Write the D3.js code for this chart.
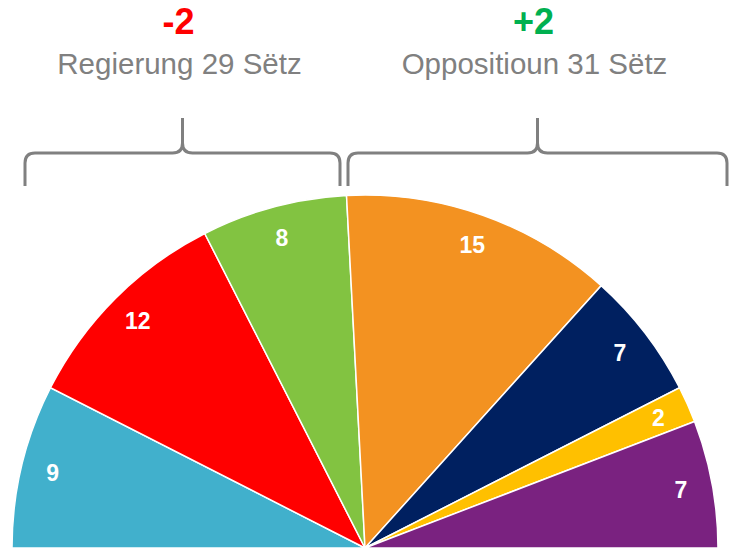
<!DOCTYPE html>
<html>
<head>
<meta charset="utf-8">
<script src="https://cdn.jsdelivr.net/npm/d3@7"></script>
<style>
  body { margin: 0; background: #fff; }
  svg { display: block; font-family: Arial, "Liberation Sans", sans-serif; }
</style>
</head>
<body>
<script>
var width = 734,
	height = 550;

// seats per party, left to right
var parties = ["CSV", "LSAP", "DP", "déi gréng", "ADR", "Piraten", "déi Lénk"];
var seats = [9, 12, 8, 15, 7, 2, 7];
var colors = ["#41B0CC", "#FF0000", "#82C341", "#F39221", "#002060", "#FFC000", "#7A2280"];

// groups above the chart
var groups = ["Regierung 29 Sëtz", "Oppositioun 31 Sëtz"];
var changes = ["-2", "+2"];
var changeColors = ["#FF0000", "#00B050"];

var cx = 365, cy = 548, R = 353;

var svg = d3.select("body").append("svg")
	.attr("width", width)
	.attr("height", height);

var pie = d3.pie()
	.sort(null)
	.startAngle(-Math.PI / 2)
	.endAngle(Math.PI / 2)
	.value(function(d) { return d; });

var arcs = pie(seats);

var arc = d3.arc().innerRadius(0).outerRadius(R);
var labelArc = d3.arc().innerRadius(R * 0.91).outerRadius(R * 0.91);

var g = svg.append("g").attr("transform", "translate(" + cx + "," + cy + ")");

g.selectAll("path.slice")
	.data(arcs)
	.enter().append("path")
	.attr("class", "slice")
	.attr("d", arc)
	.attr("fill", function(d, i) { return colors[i]; })
	.attr("stroke", "#fff")
	.attr("stroke-width", 1.5);

g.selectAll("text.lbl")
	.data(arcs)
	.enter().append("text")
	.attr("class", "lbl")
	.attr("transform", function(d) { return "translate(" + labelArc.centroid(d) + ")"; })
	.attr("text-anchor", "middle")
	.attr("dy", "0.36em")
	.attr("fill", "#fff")
	.attr("font-weight", "bold")
	.attr("font-size", 23)
	.text(function(d) { return d.data; });

// curly brackets over each group
var bracketY = 153, peakY = 118, endY = 186;
var bracketX = [[25, 340], [348, 727]];

function bracket(x0, x1) {
	var m = (x0 + x1) / 2, c = 10;
	return "M" + x0 + "," + endY +
		"L" + x0 + "," + (bracketY + c) +
		"Q" + x0 + "," + bracketY + " " + (x0 + c) + "," + bracketY +
		"L" + (m - c) + "," + bracketY +
		"Q" + m + "," + bracketY + " " + m + "," + (bracketY - c) +
		"L" + m + "," + peakY +
		"M" + m + "," + (bracketY - c) +
		"Q" + m + "," + bracketY + " " + (m + c) + "," + bracketY +
		"L" + (x1 - c) + "," + bracketY +
		"Q" + x1 + "," + bracketY + " " + x1 + "," + (bracketY + c) +
		"L" + x1 + "," + endY;
}

groups.forEach(function(name, i) {
	var x0 = bracketX[i][0], x1 = bracketX[i][1], m = (x0 + x1) / 2;
	svg.append("path")
		.attr("d", bracket(x0, x1))
		.attr("fill", "none")
		.attr("stroke", "#808080")
		.attr("stroke-width", 3);
	svg.append("text")
		.attr("x", m - 3)
		.attr("y", 74)
		.attr("text-anchor", "middle")
		.attr("fill", "#808080")
		.attr("font-size", 29.5)
		.text(name);
	svg.append("text")
		.attr("x", m - 4)
		.attr("y", 33.5)
		.attr("text-anchor", "middle")
		.attr("fill", changeColors[i])
		.attr("font-weight", "bold")
		.attr("font-size", 36)
		.text(changes[i]);
});
</script>
</body>
</html>
